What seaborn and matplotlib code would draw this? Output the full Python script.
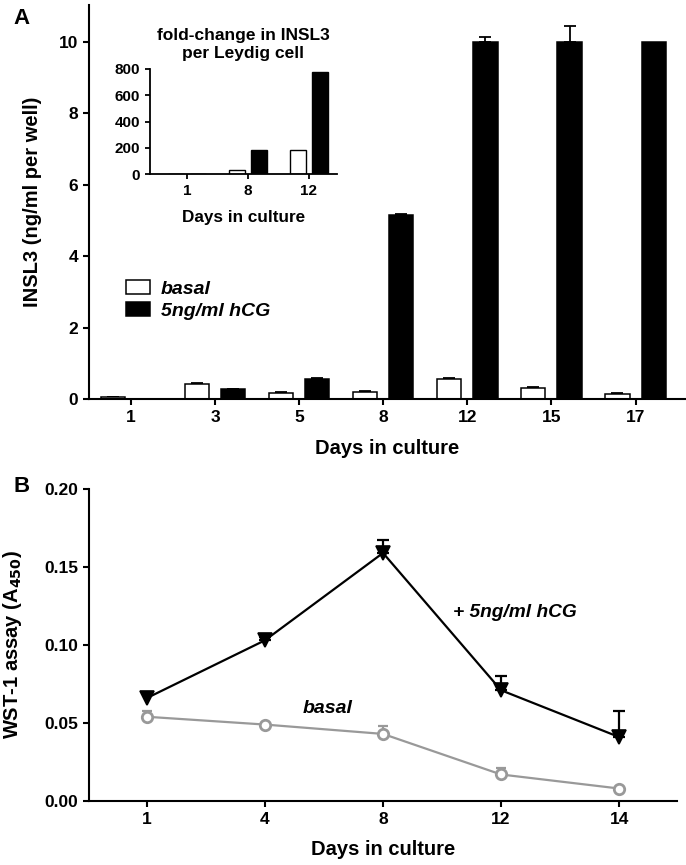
import numpy as np
import pandas as pd
import matplotlib
matplotlib.use("Agg")
import matplotlib.pyplot as plt
from matplotlib.patches import Patch
import seaborn as sns

# ---------------- data ----------------
days_a = ["1", "3", "5", "8", "12", "15", "17"]
basal_a = [0.05, 0.42, 0.18, 0.21, 0.56, 0.32, 0.14]
basal_a_err = [0.01, 0.02, 0.02, 0.02, 0.02, 0.02, 0.02]
hcg_a = [0.0, 0.27, 0.57, 5.15, 10.0, 10.0, 10.0]
hcg_a_err = [0.0, 0.01, 0.03, 0.03, 0.15, 0.45, 0.0]

days_inset = ["1", "8", "12"]
basal_inset = [1, 30, 180]
hcg_inset = [1, 180, 780]

days_b = ["1", "4", "8", "12", "14"]
basal_b = [0.054, 0.049, 0.043, 0.017, 0.008]
basal_b_err = [0.004, 0.0, 0.005, 0.004, 0.0]
hcg_b = [0.066, 0.103, 0.159, 0.071, 0.041]
hcg_b_err = [0.0, 0.002, 0.008, 0.009, 0.017]

treatments = ["basal", "5ng/ml hCG"]
colors = {"basal": "white", "5ng/ml hCG": "black"}

# ---------------- style ----------------
sns.set_style("ticks")
plt.rcParams["font.family"] = ["Liberation Sans", "DejaVu Sans"]
plt.rcParams["font.weight"] = "bold"
plt.rcParams["axes.labelweight"] = "bold"
plt.rcParams["text.color"] = "black"
plt.rcParams["axes.labelcolor"] = "black"
plt.rcParams["xtick.color"] = "black"
plt.rcParams["ytick.color"] = "black"
plt.rcParams["axes.edgecolor"] = "black"

W, H = 686, 865
fig = plt.figure(figsize=(W / 100, H / 100), dpi=100)


def rect(x0, x1, ytop, ybot):
    return [x0 / W, 1 - ybot / H, (x1 - x0) / W, (ybot - ytop) / H]


def style_axes(ax, lw=1.5, tl=4.5, ls=12.5):
    sns.despine(ax=ax)
    for s in ("left", "bottom"):
        ax.spines[s].set_linewidth(lw)
    ax.tick_params(width=lw, length=tl, labelsize=ls, direction="out")
    for lab in ax.get_xticklabels() + ax.get_yticklabels():
        lab.set_fontweight("bold")


def upper_err(ax, xs, ys, es, color, capsize, lw, zorder):
    xs, ys, es = np.asarray(xs), np.asarray(ys), np.asarray(es)
    m = es > 0
    ax.errorbar(xs[m], ys[m], yerr=[np.zeros(m.sum()), es[m]], fmt="none",
                ecolor=color, elinewidth=lw, capsize=capsize,
                capthick=lw, zorder=zorder)


def add_errbars(ax, errs_by_hue, capsize, lw):
    for cont, hue in zip(ax.containers, treatments):
        errs = errs_by_hue[hue]
        xs, ys, es = [], [], []
        for bar in cont:
            xc = bar.get_x() + bar.get_width() / 2
            idx = int(round(xc))
            xs.append(xc)
            ys.append(bar.get_height())
            es.append(errs[idx])
        upper_err(ax, xs, ys, es, "black", capsize, lw, 1)


# ---------------- panel A ----------------
dfa = pd.DataFrame({
    "day": days_a * 2,
    "value": basal_a + hcg_a,
    "treatment": ["basal"] * len(days_a) + ["5ng/ml hCG"] * len(days_a),
})
axA = fig.add_axes(rect(89, 686, 5, 399))
sns.barplot(data=dfa, x="day", y="value", hue="treatment", order=days_a,
            hue_order=treatments, palette=colors, edgecolor="black",
            linewidth=1.1, width=0.86, gap=0.33, errorbar=None,
            legend=False, ax=axA, zorder=2)
add_errbars(axA, {"basal": basal_a_err, "5ng/ml hCG": hcg_a_err}, 4.5, 1.3)
axA.set_xlim(-0.5, 6.6)
axA.set_ylim(0, 11.04)
axA.set_yticks([0, 2, 4, 6, 8, 10])
axA.set_xlabel("Days in culture", fontsize=14.5, fontweight="bold", labelpad=10)
axA.set_ylabel("INSL3 (ng/ml per well)", fontsize=14.5, fontweight="bold", labelpad=12)
style_axes(axA)

handles = [Patch(facecolor=colors[t], edgecolor="black", linewidth=1.1) for t in treatments]
leg = axA.legend(handles, treatments, loc="upper left", bbox_to_anchor=(0.045, 0.326),
                 frameon=False, borderpad=0, handlelength=1.25, handleheight=0.72,
                 handletextpad=0.55, labelspacing=0.2,
                 prop={"size": 14, "weight": "bold", "style": "italic"})

# ---------------- inset ----------------
dfi = pd.DataFrame({
    "day": days_inset * 2,
    "value": basal_inset + hcg_inset,
    "treatment": ["basal"] * len(days_inset) + ["5ng/ml hCG"] * len(days_inset),
})
axI = fig.add_axes(rect(150, 337, 69, 174))
sns.barplot(data=dfi, x="day", y="value", hue="treatment", order=days_inset,
            hue_order=treatments, palette=colors, edgecolor="black",
            linewidth=1.0, width=0.72, gap=0.28, errorbar=None,
            legend=False, ax=axI)
axI.set_xlim(-0.61, 2.46)
axI.set_ylim(0, 800)
axI.set_yticks([0, 200, 400, 600, 800])
axI.set_xlabel("Days in culture", fontsize=12.3, fontweight="bold", labelpad=9)
axI.set_ylabel("")
axI.set_title("fold-change in INSL3\nper Leydig cell", fontsize=12.5,
              fontweight="bold", pad=8, linespacing=1.25)
style_axes(axI, lw=1.3, tl=3.5, ls=11)

# ---------------- panel B ----------------
axB = fig.add_axes(rect(89, 677, 489, 801))
sns.pointplot(x=days_b, y=basal_b, order=days_b, color="#999999", markers="o",
              errorbar=None, ax=axB, markersize=7.5, markerfacecolor="white",
              markeredgecolor="#999999", markeredgewidth=2.0, linewidth=1.6)
xb = axB.lines[-1].get_xdata()
upper_err(axB, xb, basal_b, basal_b_err, "#999999", 3.5, 1.6, 1)
sns.pointplot(x=days_b, y=hcg_b, order=days_b, color="black", markers="v",
              errorbar=None, ax=axB, markersize=9.5, linewidth=1.6)
xh = axB.lines[-1].get_xdata()
upper_err(axB, xh, hcg_b, hcg_b_err, "black", 4.5, 1.6, 3)
axB.set_xlim(-0.49, 4.49)
axB.set_ylim(0, 0.20)
axB.set_yticks([0.0, 0.05, 0.10, 0.15, 0.20])
axB.set_yticklabels(["0.00", "0.05", "0.10", "0.15", "0.20"])
axB.set_xlabel("Days in culture", fontsize=14.5, fontweight="bold", labelpad=9)
axB.set_ylabel("WST-1 assay (A$_{\\mathbf{450}}$)", fontsize=14.5, fontweight="bold", labelpad=14)
style_axes(axB)
axB.text(3.12, 0.121, "+ 5ng/ml hCG", fontsize=13.8, fontweight="bold",
         fontstyle="italic", ha="center", va="center")
axB.text(1.53, 0.059, "basal", fontsize=14, fontweight="bold",
         fontstyle="italic", ha="center", va="center")

# panel letters
fig.text(13 / W, 1 - 18 / H, "A", fontsize=16, fontweight="bold", ha="left", va="center")
fig.text(14 / W, 1 - 487 / H, "B", fontsize=16, fontweight="bold", ha="left", va="center")

fig.savefig("out.png", dpi=100)
